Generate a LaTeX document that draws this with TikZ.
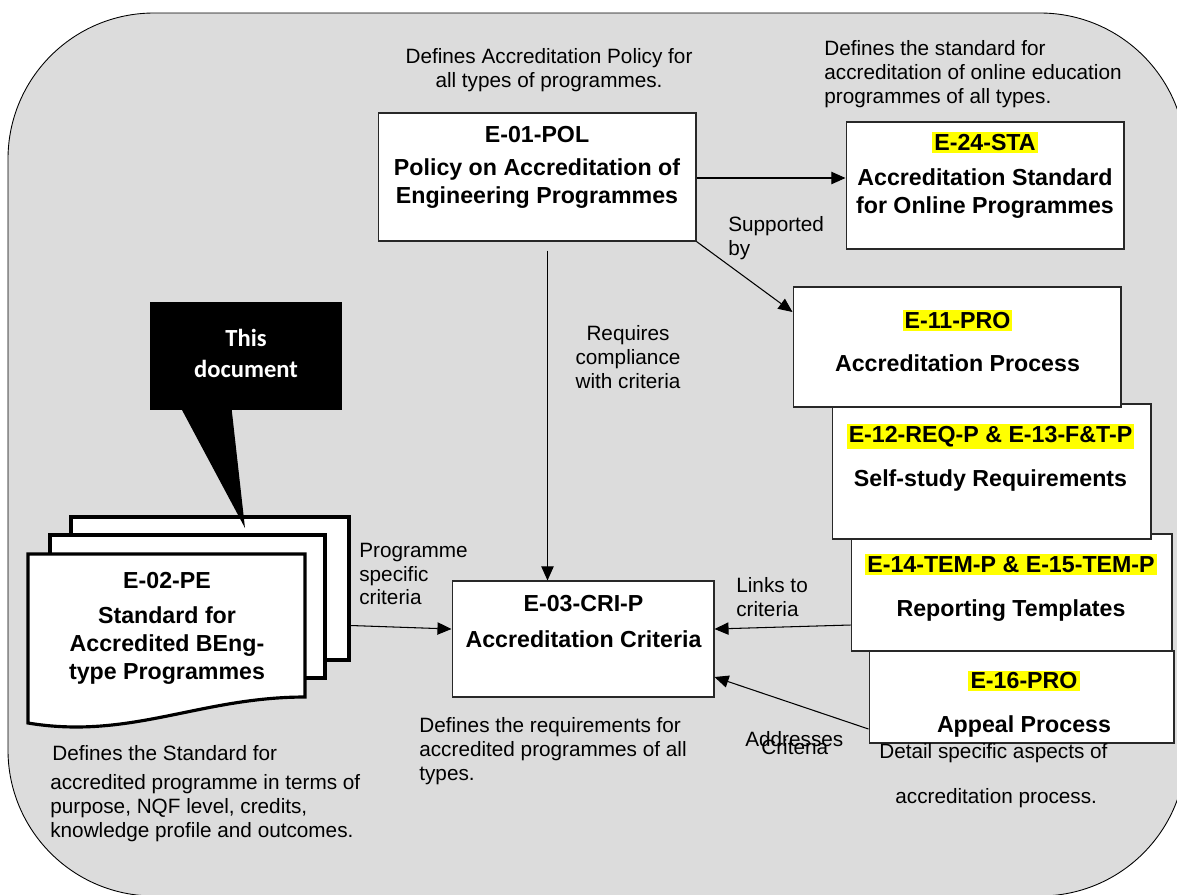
\documentclass[tikz,border=0pt]{standalone}
\usepackage{fontspec}
\setmainfont{Liberation Sans}
\newfontfamily\calloutfont{Carlito}
\usetikzlibrary{arrows.meta}
\usetikzlibrary{calc}
\tikzset{>={Triangle[length=8pt,width=7pt]}}
\definecolor{panelgray}{RGB}{220,220,220}
\definecolor{hlyellow}{RGB}{255,255,0}
\definecolor{boxline}{RGB}{40,40,40}
\newcommand\headsize{\fontsize{13.2}{15.9}\selectfont\bfseries}
\newcommand\notesize{\fontsize{11.8}{13.6}\selectfont}
\newcommand\hl[1]{{\setlength\fboxsep{1.2pt}\colorbox{hlyellow}{#1}}}
\tikzstyle{panel}=[draw=black,fill=panelgray,line width=0.5pt,rounded corners=2.92cm]
\tikzstyle{docbox}=[draw=boxline,fill=white,line width=0.6pt,inner sep=0pt]
\tikzstyle{pageline}=[draw=black,fill=white,line width=1.8pt,inner sep=0pt]
\tikzstyle{head}=[font=\headsize,align=center,inner sep=0pt]
\tikzstyle{note}=[font=\notesize,inner sep=0pt]
\tikzstyle{link}=[->,draw=black,line width=0.6pt]

\begin{document}
\begin{tikzpicture}[x=0.02cm,y=-0.02cm]
  \useasboundingbox (0,0) rectangle (1177,894);
  \draw[panel] (8,13) rectangle (1186,896);

  % top row
  \node[docbox,minimum width=6.36cm,minimum height=2.56cm] (pol) at (537,177) {};
  \node[head] (poltxt) at (537,167.5) {E-01-POL\\[2.8pt]Policy on Accreditation of\\Engineering Programmes};
  \node[docbox,minimum width=5.56cm,minimum height=2.54cm] (sta) at (985,185.5) {};
  \node[head] (statxt) at (985,175) {\hl{E-24-STA}\\[4pt]Accreditation Standard\\for Online Programmes};

  % process stack (back to front)
  \node[docbox,minimum width=6.10cm,minimum height=1.84cm] (app) at (1021.5,697) {};
  \node[head] (apptxt) at (1024,704) {\hl{E-16-PRO}\\[9pt]Appeal Process};
  \node[docbox,minimum width=6.42cm,minimum height=2.34cm] (tem) at (1011.5,592.5) {};
  \node[head] (temtxt) at (1011,587.5) {\hl{E-14-TEM-P \& E-15-TEM-P}\\[9pt]Reporting Templates};
  \node[docbox,minimum width=6.38cm,minimum height=2.70cm] (req) at (991.5,471.5) {};
  \node[head] (reqtxt) at (990.5,457.5) {\hl{E-12-REQ-P \& E-13-F\&T-P}\\[9pt]Self-study Requirements};
  \node[docbox,minimum width=6.56cm,minimum height=2.40cm] (pro) at (957,347) {};
  \node[head] (protxt) at (957.5,341) {\hl{E-11-PRO}\\[9pt]Accreditation Process};

  % criteria
  \node[docbox,minimum width=5.24cm,minimum height=2.32cm] (cri) at (583,639) {};
  \node[head] (critxt) at (583.5,621.5) {E-03-CRI-P\\[5pt]Accreditation Criteria};

  % document stack
  \node[pageline,minimum width=5.56cm,minimum height=2.86cm] (docc) at (210,588.5) {};
  \node[pageline,minimum width=5.5cm,minimum height=2.86cm] (docb) at (187.5,606.5) {};
  \draw[pageline] (28,554) -- (305,554) -- (305,697)
    .. controls (200,697) and (130,740) .. (28,723) -- cycle;
  \node[head] (doctxt) at (167,628) {E-02-PE\\[4pt]Standard for\\Accredited BEng-\\type Programmes};

  % callout
  \node[fill=black,minimum width=3.84cm,minimum height=2.16cm,inner sep=0pt] (callout) at (246,356) {};
  \coordinate (caltip) at (245,528);
  \fill ($(callout.south west)+(32,-1)$) -- (caltip) -- ($(callout.south west)+(82,-1)$) -- cycle;
  \node[text=white,font=\fontsize{14}{17.6}\selectfont\calloutfont\bfseries,align=center,inner sep=0pt] (caltxt) at (246,353.5) {This\\document};

  % connectors
  \coordinate (polout) at ($(pol.east)+(0,1)$);
  \draw[link] (polout) -- (polout -| sta.west);
  \draw[link] (pol.south east) -- ($(pro.west)+(0,-35)$);
  \coordinate (poldown) at ($(pol.south)+(10.5,9)$);
  \draw[link] (poldown) -- (poldown |- cri.north);
  \draw[link] ($(docc.east)+(0,37)$) -- ($(cri.west)+(0,-10)$);
  \draw[link] ($(tem.west)+(0,32.5)$) -- ($(cri.east)+(0,-10)$);
  \draw[link] ($(app.west)+(0,32)$) -- ($(cri.east)+(0,38)$);

  % notes
  \node[note,align=center] (polnote) at (549,70) {Defines Accreditation Policy for\\all types of programmes.};
  \node[note,align=left,anchor=west] (stanote) at (824,74) {Defines the standard for\\accreditation of online education\\programmes of all types.};
  \node[note,align=left,anchor=west] (supnote) at (728,238) {Supported\\by};
  \node[note,align=center] (reqnote) at (628,357) {Requires\\compliance\\with criteria};
  \node[note,align=left,anchor=west] (prgnote) at (359,574) {Programme\\specific\\criteria};
  \node[note,align=left,anchor=west] (lnknote) at (736,597) {Links to\\criteria};
  \node[note,anchor=west] (addnote) at (745,739) {Addresses};
  \node[note,anchor=west] (critnote) at (761,747) {Criteria};
  \node[note,align=left,anchor=west] (crinote) at (419,751) {Defines the requirements for\\accredited programmes of all\\types.};
  \node[note,anchor=west] (docnote) at (52,753) {Defines the Standard for};
  \node[note,align=left,anchor=west] (docnote2) at (50,808.5) {accredited programme in terms of\\purpose, NQF level, credits,\\knowledge profile and outcomes.};
  \node[note,anchor=west] (appnote) at (879,753) {Detail specific aspects of};
  \node[note,anchor=west] (appnote2) at (895,798) {accreditation process.};
\end{tikzpicture}
\end{document}
